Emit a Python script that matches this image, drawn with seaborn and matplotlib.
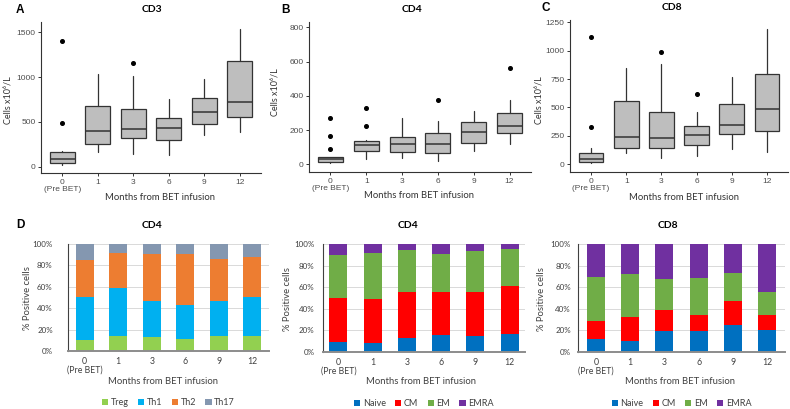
import numpy as np
import pandas as pd
import matplotlib
matplotlib.use("Agg")
import matplotlib.pyplot as plt
import seaborn as sns
from matplotlib.patches import Patch

# ---------------- data ----------------
months = ["0", "1", "3", "6", "9", "12"]
tick_labels = ["0\n(Pre BET)", "1", "3", "6", "9", "12"]

# Panel A: CD3 box statistics (cells x10^6/L)
cd3_lo = [20, 167, 138, 130, 354, 383]
cd3_q1 = [37, 249, 316, 298, 473, 558]
cd3_med = [82, 402, 417, 428, 607, 722]
cd3_q3 = [160, 677, 640, 540, 763, 1176]
cd3_hi = [180, 1031, 1016, 756, 979, 1533]
cd3_out = [[1400, 490], [], [1154], [], [], []]

# Panel B: CD4 box statistics
cd4_lo = [9, 31, 35, 21, 78, 118]
cd4_q1 = [15, 80, 74, 64, 123, 185]
cd4_med = [29, 113, 117, 118, 187, 224]
cd4_q3 = [41, 134, 158, 185, 245, 298]
cd4_hi = [45, 142, 268, 253, 311, 375]
cd4_out = [[272, 167, 91], [331, 222], [], [375], [], [563]]

# Panel C: CD8 box statistics
cd8_lo = [9, 97, 53, 76, 132, 111]
cd8_q1 = [18, 141, 141, 167, 270, 293]
cd8_med = [50, 238, 229, 258, 346, 490]
cd8_q3 = [103, 555, 458, 335, 534, 792]
cd8_hi = [147, 845, 880, 464, 766, 1188]
cd8_out = [[1124, 326], [], [986], [619], [], []]

# Panel D: CD4 helper subsets (% positive cells)
treg = [10.3, 14.0, 13.0, 11.2, 13.7, 13.7]
th1 = [39.9, 45.2, 33.7, 31.8, 33.3, 36.5]
th2 = [34.8, 32.1, 44.0, 48.0, 38.7, 37.3]
th17 = [15.0, 8.7, 9.3, 9.0, 14.3, 12.5]

# CD4 memory subsets
cd4_naive = [9.6, 8.4, 13.3, 16.1, 15.2, 16.7]
cd4_cm = [40.2, 40.5, 42.4, 39.0, 40.5, 44.0]
cd4_em = [40.3, 43.1, 38.4, 35.6, 38.1, 34.3]
cd4_emra = [9.9, 8.0, 5.9, 9.3, 6.2, 5.0]

# CD8 memory subsets
cd8_naive = [12.0, 10.5, 19.7, 19.7, 24.9, 20.3]
cd8_cm = [16.9, 22.1, 19.1, 14.1, 22.2, 13.9]
cd8_em = [40.9, 40.0, 28.9, 35.1, 26.1, 21.2]
cd8_emra = [30.2, 27.4, 32.3, 31.1, 26.8, 44.6]

helper_names = ["Treg", "Th1", "Th2", "Th17"]
helper_colors = ["#92D050", "#00B0F0", "#ED7D31", "#8497B0"]
mem_names = ["Naive", "CM", "EM", "EMRA"]
mem_colors = ["#0070C0", "#FF0000", "#70AD47", "#7030A0"]

# ---------------- style ----------------
sns.set_theme(style="white")
plt.rcParams["font.family"] = ["Liberation Sans", "DejaVu Sans"]
CAL = ["Lato", "DejaVu Sans"]
GREY30 = "#4D4D4D"

W, H = 790, 409
fig = plt.figure(figsize=(W / 100, H / 100), dpi=100)


def rect(l, r, t, b):
    return [l / W, 1 - b / H, (r - l) / W, (b - t) / H]


def ftext(x, y, s, **kw):
    fig.text(x / W, 1 - y / H, s, ha=kw.pop("ha", "center"), va=kw.pop("va", "center"), **kw)


def box_panel(pos, lo, q1, med, q3, hi, out, ylim, yticks):
    ax = fig.add_axes(pos)
    stats = [dict(whislo=a, q1=b, med=c, q3=d, whishi=e, fliers=f)
             for a, b, c, d, e, f in zip(lo, q1, med, q3, hi, out)]
    ax.bxp(stats, positions=range(len(months)), widths=0.7, patch_artist=True,
           showcaps=False,
           boxprops=dict(facecolor="#BEBEBE", edgecolor="#333333", lw=0.9),
           medianprops=dict(color="#333333", lw=1.1),
           whiskerprops=dict(color="#333333", lw=0.9),
           flierprops=dict(marker="o", markerfacecolor="black", markeredgecolor="black",
                           markersize=2.6))
    ax.set_xlim(-0.6, 5.6)
    ax.set_ylim(*ylim)
    ax.set_yticks(yticks)
    ax.set_xticks(range(len(months)))
    ax.set_xticklabels(tick_labels, linespacing=1.15)
    for s in ["top", "right"]:
        ax.spines[s].set_visible(False)
    for s in ["left", "bottom"]:
        ax.spines[s].set_color("#333333")
        ax.spines[s].set_linewidth(0.8)
    ax.tick_params(axis="both", direction="out", length=2.5, width=0.7, color="#333333",
                   labelsize=6, labelcolor=GREY30, pad=1.5, left=True, bottom=True)
    ax.set_facecolor("white")
    return ax


def stack_panel(pos, series, colors, names, xlim, ypad):
    ax = fig.add_axes(pos)
    df = pd.DataFrame({"month": months})
    cum = np.zeros(len(months))
    cums = []
    for s in series:
        cum = cum + np.array(s)
        cums.append(cum.copy())
    # draw from the top layer down so that lower layers overlay
    for c, col in reversed(list(zip(cums, colors))):
        df["val"] = c / 100.0
        sns.barplot(data=df, x="month", y="val", order=months, color=col,
                    saturation=1, width=0.53, edgecolor="none", ax=ax, zorder=2)
    ax.set_xlim(*xlim)
    ax.set_ylim(0, 1.0)
    ax.set_yticks(np.arange(0, 1.01, 0.2))
    ax.set_yticklabels([f"{int(round(v*100))}%" for v in np.arange(0, 1.01, 0.2)])
    ax.yaxis.grid(True, color="#D9D9D9", lw=0.7, zorder=0)
    ax.set_axisbelow(True)
    ax.set_xticks(range(len(months)))
    ax.set_xticklabels(tick_labels, linespacing=1.0)
    for t in ax.get_xticklabels() + ax.get_yticklabels():
        t.set_fontfamily(CAL)
    ax.set_xlabel("")
    ax.set_ylabel("")
    for s in ["top", "right"]:
        ax.spines[s].set_visible(False)
    ax.spines["left"].set_color("#404040")
    ax.spines["left"].set_linewidth(0.8)
    ax.spines["bottom"].set_color("#8C8C8C")
    ax.spines["bottom"].set_linewidth(1.4)
    ax.tick_params(axis="y", length=0, labelsize=5.8, labelcolor="#404040", pad=ypad)
    ax.tick_params(axis="x", length=0, labelsize=6.3, labelcolor="#404040", pad=4)
    handles = [Patch(facecolor=c, edgecolor="none") for c in colors]
    ax.legend(handles, names, loc="center", bbox_to_anchor=(0.5, -0.48), ncol=4,
              frameon=False, handlelength=0.7, handleheight=0.7, handletextpad=0.3,
              columnspacing=1.0, prop=dict(family=CAL, size=6.5), labelcolor="#404040")
    return ax


# ---------------- top row: box plots ----------------
box_panel(rect(41, 261, 22, 173), cd3_lo, cd3_q1, cd3_med, cd3_q3, cd3_hi, cd3_out,
          (-70, 1615), [0, 500, 1000, 1500])
box_panel(rect(309, 531, 22, 172), cd4_lo, cd4_q1, cd4_med, cd4_q3, cd4_hi, cd4_out,
          (-45, 831), [0, 200, 400, 600, 800])
box_panel(rect(570, 788, 20, 172), cd8_lo, cd8_q1, cd8_med, cd8_q3, cd8_hi, cd8_out,
          (-68, 1270), [0, 250, 500, 750, 1000, 1250])

for x, y, s in [(20, 10, "A"), (286, 10, "B"), (546, 8, "C"), (20, 225, "D")]:
    ftext(x, y, s, fontsize=8.5, fontweight="bold", color="black")

for x, y, s in [(152, 9, "CD3"), (412, 9, "CD4"), (672, 7, "CD8"),
                (152, 225, "CD4"), (408, 225, "CD4"), (668, 225, "CD8")]:
    ftext(x, y, s, fontsize=7.5, fontweight="bold", family=CAL, color="black")

for x, y in [(160, 197), (419, 196), (684, 197)]:
    ftext(x, y, "Months from BET infusion", fontsize=6.8, family=CAL, color="#333333")
for x, y in [(8, 100), (275, 92), (539, 100)]:
    ftext(x, y, "Cells x10\u2076/L", fontsize=6.5, family=CAL, color="#333333", rotation=90)

# ---------------- bottom row: stacked bars ----------------
stack_panel(rect(68, 269, 244, 351), [treg, th1, th2, th17], helper_colors, helper_names,
            (-0.5, 5.5), 11)
stack_panel(rect(323, 525, 244, 352), [cd4_naive, cd4_cm, cd4_em, cd4_emra], mem_colors,
            mem_names, (-0.45, 5.45), 6)
stack_panel(rect(578, 785, 244, 352), [cd8_naive, cd8_cm, cd8_em, cd8_emra], mem_colors,
            mem_names, (-0.52, 5.52), 5)

for x, y in [(163, 382), (421, 382), (680, 382)]:
    ftext(x, y, "Months from BET infusion", fontsize=6.8, family=CAL, color="#404040")
for x, y in [(28, 298), (287, 299), (542, 299)]:
    ftext(x, y, "% Positive cells", fontsize=6.8, family=CAL, color="#404040", rotation=90)

fig.savefig("out.png", dpi=100)
